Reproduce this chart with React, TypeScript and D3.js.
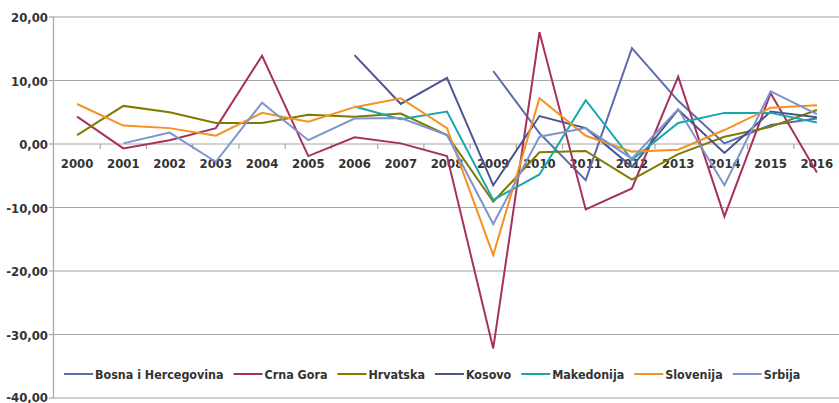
import React, { useRef, useEffect } from 'react';
import { select, scaleBand, scaleLinear, line } from 'd3';

const years = ['2000', '2001', '2002', '2003', '2004', '2005', '2006', '2007', '2008', '2009', '2010', '2011', '2012', '2013', '2014', '2015', '2016'];
const yTicks = [20, 10, 0, -10, -20, -30, -40];

type V = number | null;
const bosna: V[] = [null, null, null, null, null, null, null, null, null, 11.5, 1.7, -5.7, 15.1, 6.8, 0.1, 3.0, 4.0];
const crnaGora: V[] = [4.3, -0.7, 0.6, 2.5, 13.9, -1.9, 1.05, 0.1, -1.9, -32.2, 17.6, -10.3, -7.0, 10.6, -11.4, 8.0, -4.5];
const hrvatska: V[] = [1.4, 6.0, 5.0, 3.3, 3.3, 4.6, 4.3, 4.8, 1.4, -9.1, -1.3, -1.1, -5.6, -1.6, 1.15, 2.7, 5.35];
const kosovo: V[] = [null, null, null, null, null, null, 14.0, 6.3, 10.4, -6.5, 4.4, 2.5, -3.6, 5.4, -1.4, 5.1, 4.2];
const makedonija: V[] = [null, null, null, null, null, null, 5.9, 3.9, 5.1, -8.8, -4.8, 6.9, -2.5, 3.3, 4.9, 4.9, 3.4];
const slovenija: V[] = [6.3, 2.9, 2.5, 1.3, 4.9, 3.5, 5.8, 7.2, 2.5, -17.5, 7.2, 1.3, -1.2, -0.9, 2.2, 5.7, 6.1];
const srbija: V[] = [null, 0.1, 1.8, -2.8, 6.5, 0.6, 4.0, 4.1, 1.4, -12.6, 1.15, 2.5, -2.3, 5.5, -6.5, 8.3, 4.7];

const seriesNames = ['Bosna i Hercegovina', 'Crna Gora', 'Hrvatska', 'Kosovo', 'Makedonija', 'Slovenija', 'Srbija'];
const seriesValues = [bosna, crnaGora, hrvatska, kosovo, makedonija, slovenija, srbija];
const seriesColors = ['#5A6CAE', '#A8305F', '#7E7B00', '#4B5490', '#16A8AA', '#F7901E', '#7C94D0'];

const W = 839;
const H = 403;
const FONT = '"DejaVu Sans Condensed", "DejaVu Sans", sans-serif';

function App() {
  const svgRef = useRef<SVGSVGElement>(null);

  useEffect(() => {
    const svg = select(svgRef.current);
    svg.selectAll('*').remove();

    const left = 54;
    const right = 840;
    const x = scaleBand().domain(years).range([left, right]);
    const y = scaleLinear().domain([-40, 20]).range([398, 17]);
    const fmt = (v: number) => v.toFixed(2).replace('.', ',');

    // grid lines
    svg
      .append('g')
      .selectAll('line')
      .data(yTicks)
      .join('line')
      .attr('x1', left)
      .attr('x2', W)
      .attr('y1', (d) => y(d))
      .attr('y2', (d) => y(d))
      .attr('stroke', '#a6a6a6')
      .attr('stroke-width', 1.2);

    // y axis line
    svg
      .append('line')
      .attr('x1', left - 0.5)
      .attr('x2', left - 0.5)
      .attr('y1', y(20))
      .attr('y2', y(-40))
      .attr('stroke', '#a6a6a6')
      .attr('stroke-width', 1.2);

    // y tick marks
    svg
      .append('g')
      .selectAll('line')
      .data(yTicks)
      .join('line')
      .attr('x1', left - 5)
      .attr('x2', left)
      .attr('y1', (d) => y(d))
      .attr('y2', (d) => y(d))
      .attr('stroke', '#a6a6a6')
      .attr('stroke-width', 1.2);

    // y labels
    svg
      .append('g')
      .selectAll('text')
      .data(yTicks)
      .join('text')
      .attr('x', left - 6)
      .attr('y', (d) => Math.min(y(d) + 5, H - 1))
      .attr('text-anchor', 'end')
      .attr('font-family', FONT)
      .attr('font-weight', 'bold')
      .attr('font-size', 13)
      .attr('fill', '#333')
      .text((d) => fmt(d));

    // category ticks on zero line
    const bounds = years.map((d) => x(d) as number).concat([right]);
    svg
      .append('g')
      .selectAll('line')
      .data(bounds.slice(1))
      .join('line')
      .attr('x1', (d) => d)
      .attr('x2', (d) => d)
      .attr('y1', y(0))
      .attr('y2', y(0) + 5)
      .attr('stroke', '#a6a6a6')
      .attr('stroke-width', 1.2);

    // category labels
    svg
      .append('g')
      .selectAll('text')
      .data(years)
      .join('text')
      .attr('x', (d) => (x(d) as number) + x.bandwidth() / 2)
      .attr('y', y(0) + 24)
      .attr('text-anchor', 'middle')
      .attr('font-family', FONT)
      .attr('font-weight', 'bold')
      .attr('font-size', 13)
      .attr('fill', '#333')
      .text((d) => d);

    // lines
    const lineGen = line<V>()
      .defined((d) => d !== null)
      .x((d, i) => (x(years[i]) as number) + x.bandwidth() / 2)
      .y((d) => y(d as number));

    svg
      .append('g')
      .selectAll('path')
      .data(seriesValues)
      .join('path')
      .attr('d', (d) => lineGen(d))
      .attr('fill', 'none')
      .attr('stroke', (d, i) => seriesColors[i])
      .attr('stroke-width', 2)
      .attr('stroke-linejoin', 'miter');

    // legend
    const legend = svg.append('g').attr('transform', 'translate(0,374)');
    let lx = 64;
    seriesNames.forEach((name, i) => {
      legend
        .append('line')
        .attr('x1', lx)
        .attr('x2', lx + 29)
        .attr('y1', 0)
        .attr('y2', 0)
        .attr('stroke', seriesColors[i])
        .attr('stroke-width', 2);
      const t = legend
        .append('text')
        .attr('x', lx + 31)
        .attr('y', 5)
        .attr('font-family', FONT)
        .attr('font-weight', 'bold')
        .attr('font-size', 12.4)
        .attr('fill', '#333')
        .text(name);
      const w = (t.node() as SVGTextElement).getComputedTextLength();
      lx += 31 + w + 10;
    });
  }, []);

  return (
    <svg
      ref={svgRef}
      width={W}
      height={H}
      style={{ position: 'absolute', left: 0, top: 0, background: '#fff' }}
    />
  );
}

export default App;
